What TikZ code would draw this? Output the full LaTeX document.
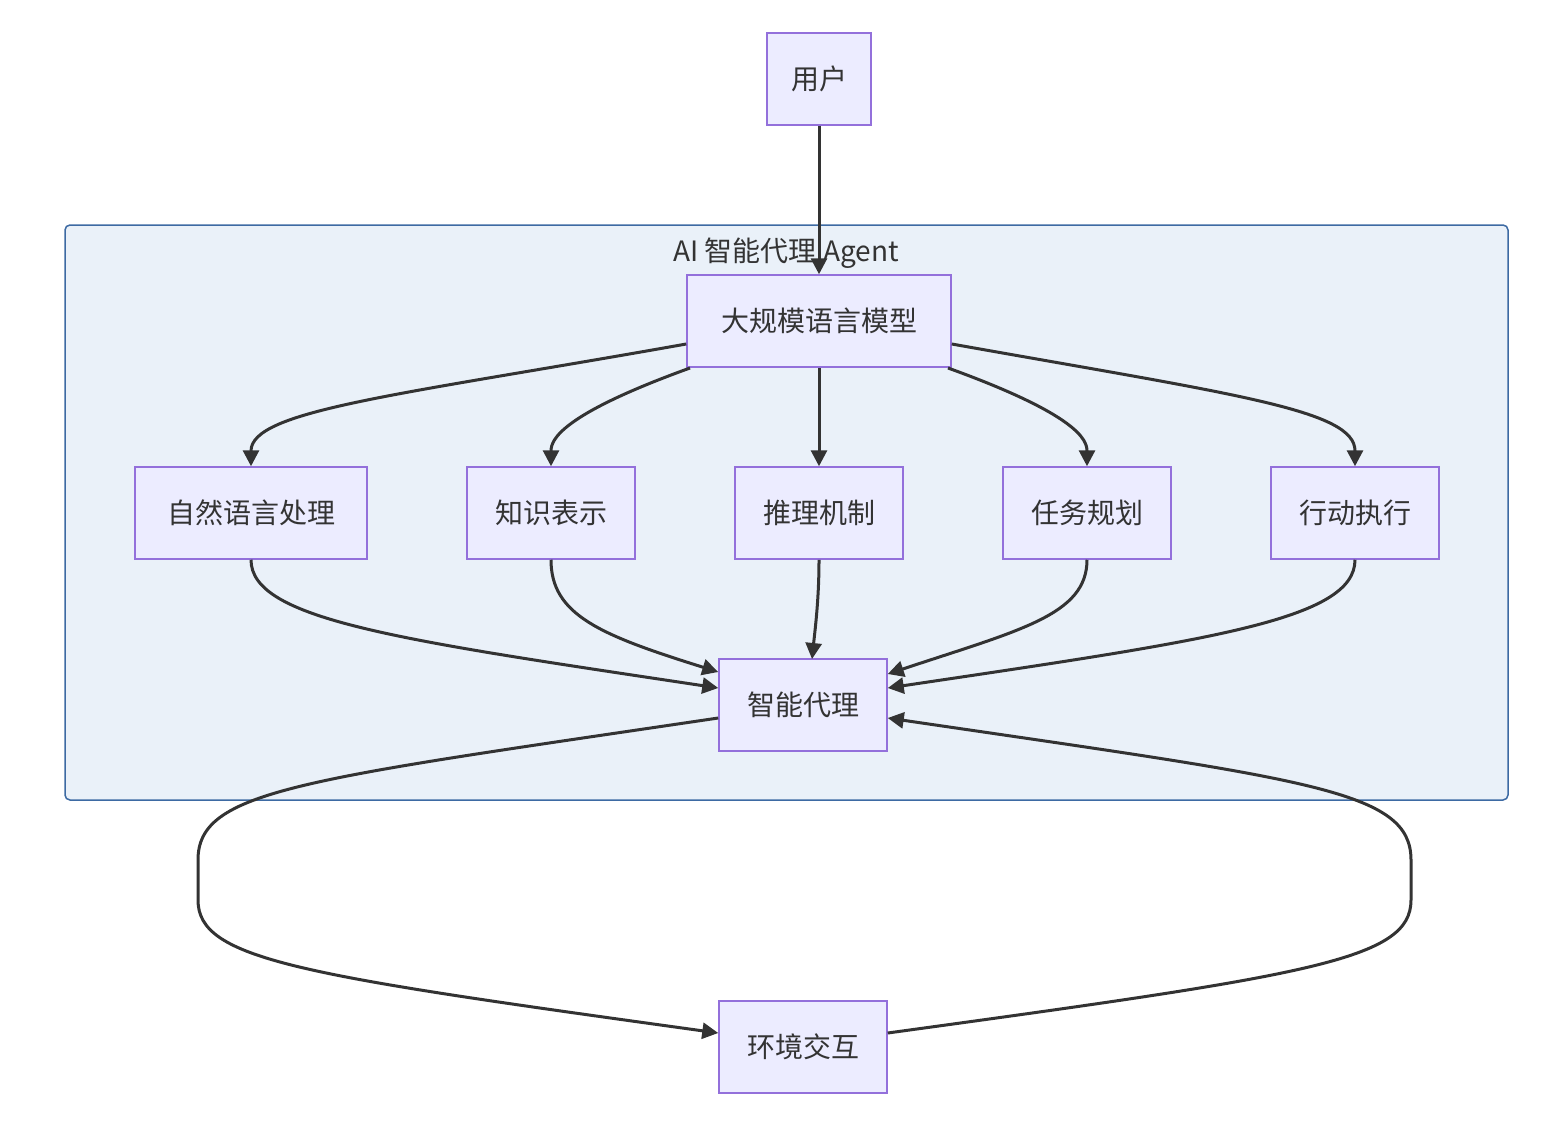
\documentclass[tikz,border=0pt]{standalone}
\usepackage{fontspec}
\setmainfont{Noto Sans CJK SC}
\usetikzlibrary{arrows.meta}
\definecolor{nfill}{HTML}{ECECFF}
\definecolor{nborder}{HTML}{9370DB}
\definecolor{cfill}{HTML}{EAF1F9}
\definecolor{cborder}{HTML}{3D6AA3}
\definecolor{edge}{HTML}{333333}
\begin{document}
\begin{tikzpicture}[x=1pt,y=-1pt,
  box/.style={draw=nborder,fill=nfill,line width=1.5pt,minimum height=92pt,inner sep=0pt,font=\fontsize{28}{32}\selectfont,text=edge},
  arr/.style={draw=edge,line width=3pt,-{Triangle[length=16pt,width=16pt]}}]
\useasboundingbox (0,0) rectangle (1568,1126);
\node[draw=cborder,fill=cfill,line width=1.5pt,rounded corners=5pt,minimum width=1443pt,minimum height=575pt,inner sep=0pt] (cl) at (786.5,512.5) {};
\node[font=\fontsize{28}{32}\selectfont,text=edge] (cllabel) at (786,253) {AI 智能代理 Agent};
\node[box,minimum width=104pt] (user) at (819,79) {用户};
\node[box,minimum width=264pt] (llm) at (819,321) {大规模语言模型};
\node[box,minimum width=232pt] (nlp) at (251,513) {自然语言处理};
\node[box,minimum width=168pt] (kr) at (551,513) {知识表示};
\node[box,minimum width=168pt] (rs) at (819,513) {推理机制};
\node[box,minimum width=168pt] (tp) at (1087,513) {任务规划};
\node[box,minimum width=168pt] (ac) at (1355,513) {行动执行};
\node[box,minimum width=168pt] (ag) at (803,705) {智能代理};
\node[box,minimum width=168pt] (env) at (803,1047) {环境交互};
\draw[arr] (user) -- (llm);
\draw[arr] (llm.west|-0,344) .. controls (400,395) and (251,410) .. (nlp.north);
\draw[arr] (690,368) .. controls (560,415) and (551,440) .. (kr.north);
\draw[arr] (llm) -- (rs);
\draw[arr] (948,368) .. controls (1078,415) and (1087,440) .. (tp.north);
\draw[arr] (llm.east|-0,344) .. controls (1238,395) and (1355,410) .. (ac.north);
\draw[arr] (nlp.south) .. controls (251,620) and (400,640) .. (ag.west|-0,688);
\draw[arr] (kr.south) .. controls (551,615) and (600,635) .. (ag.west|-0,672);
\draw[arr] (rs.south) .. controls (819,600) and (815,630) .. (812,659);
\draw[arr] (tp.south) .. controls (1087,615) and (1020,630) .. (ag.east|-0,674);
\draw[arr] (ac.south) .. controls (1355,620) and (1210,640) .. (ag.east|-0,688);
\draw[arr] (ag.west|-0,718) .. controls (300,780) and (198,790) .. (198,860) -- (198,900) .. controls (198,960) and (300,975) .. (env.west|-0,1033);
\draw[arr] (env.east|-0,1033) .. controls (1310,975) and (1411,960) .. (1411,900) -- (1411,860) .. controls (1411,790) and (1310,780) .. (ag.east|-0,718);
\end{tikzpicture}
\end{document}
